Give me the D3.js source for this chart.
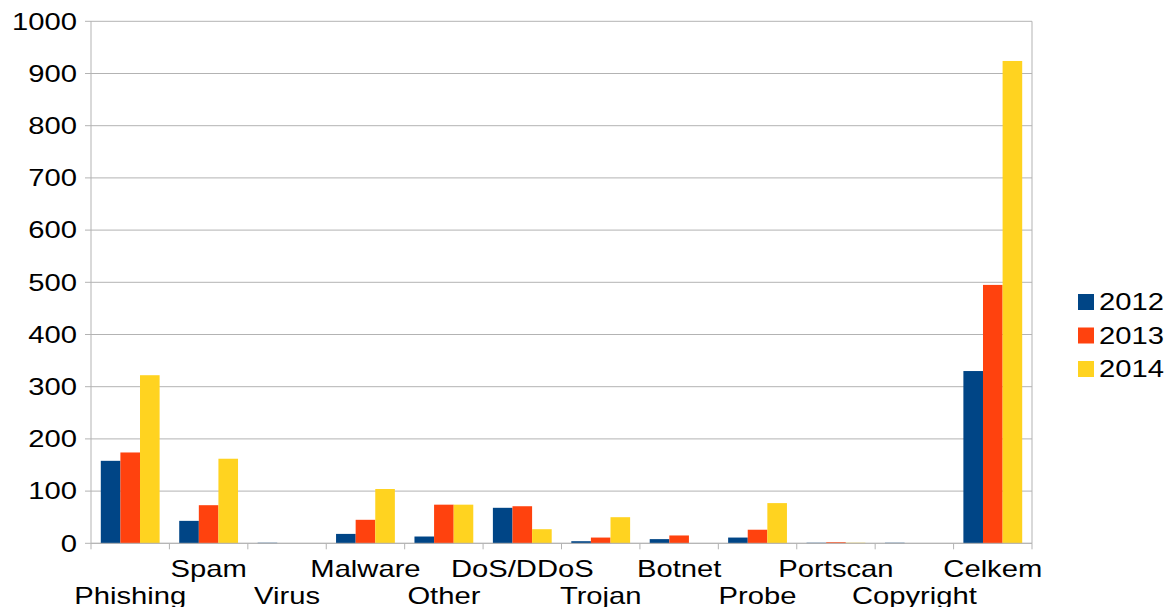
<!DOCTYPE html>
<html>
<head>
<meta charset="utf-8">
<script src="https://cdn.jsdelivr.net/npm/d3@7"></script>
<style>
    body { margin: 0; background: #fff; }
    text { font-family: "Liberation Sans", Arial, sans-serif; fill: #000; }
</style>
</head>
<body>
<div id="chart"></div>
<script>
// Chart data
const categories = ["Phishing", "Spam", "Virus", "Malware", "Other", "DoS/DDoS",
                    "Trojan", "Botnet", "Probe", "Portscan", "Copyright", "Celkem"]
const years = ["2012", "2013", "2014"]
const values2012 = [158, 43, 1, 18, 13, 68, 4, 8, 11, 1, 1, 330]
const values2013 = [174, 73, 0, 45, 74, 71, 11, 15, 26, 2, 0, 495]
const values2014 = [322, 162, 0, 104, 74, 27, 50, 0, 77, 1, 0, 924]
const yTicks = d3.range(0, 1001, 100)

const colours = ["#004586", "#ff420e", "#ffd320"]
const gridColour = "#b3b3b3"

// The source picture is stretched sideways, so text is too
const textStretch = 1.27
const fontSize = "23px"

function drawChart(container) {
    const width = 1175, height = 607
    const plot = {left: 91, right: 1032, top: 21.3, bottom: 543.3}

    // Build rows: one object per category with each year's value
    let data = categories.map((c, i) => ({
        category: c,
        values: [values2012[i], values2013[i], values2014[i]]
    }))

    let svg = d3.select(container).append("svg")
        .attr("width", width)
        .attr("height", height)

    // Scales
    let x = d3.scaleBand()
        .domain(categories)
        .range([plot.left, plot.right])
        .padding(0)
    let bw = x.bandwidth()
    let xInner = d3.scaleBand()
        .domain(years)
        .range([bw / 8, bw * 7 / 8])
        .padding(0)
    let y = d3.scaleLinear()
        .domain([0, 1000])
        .range([plot.bottom, plot.top])

    function place(tx, ty) {
        return "translate(" + tx + "," + ty + ") scale(" + textStretch + ",1)"
    }

    // Gridlines
    svg.append("g")
        .selectAll("line")
        .data(yTicks)
        .join("line")
            .attr("x1", plot.left - 6)
            .attr("x2", plot.right)
            .attr("y1", d => y(d))
            .attr("y2", d => y(d))
            .style("stroke", gridColour)
            .style("stroke-width", 1)

    // Plot border lines (left and right)
    svg.append("g")
        .selectAll("line")
        .data([plot.left, plot.right])
        .join("line")
            .attr("x1", d => d).attr("x2", d => d)
            .attr("y1", plot.top).attr("y2", plot.bottom)
            .style("stroke", gridColour)

    // Y labels
    svg.append("g")
        .selectAll("text")
        .data(yTicks)
        .join("text")
            .attr("transform", d => place(77, y(d)))
            .attr("dy", "0.36em")
            .attr("text-anchor", "end")
            .style("font-size", fontSize)
            .text(d => d)

    // Bars
    let groups = svg.append("g")
        .selectAll("g")
        .data(data)
        .join("g")
            .attr("transform", d => "translate(" + x(d.category) + ",0)")

    groups.selectAll("rect")
        .data(d => d.values.map((v, i) => ({year: years[i], value: v, i: i})))
        .join("rect")
            .attr("x", d => xInner(d.year))
            .attr("width", xInner.bandwidth())
            .attr("y", d => y(d.value))
            .attr("height", d => y(0) - y(d.value))
            .style("fill", d => colours[d.i])

    // X axis line and ticks at band edges
    svg.append("line")
        .attr("x1", plot.left).attr("x2", plot.right)
        .attr("y1", plot.bottom).attr("y2", plot.bottom)
        .style("stroke", gridColour)

    let edges = categories.map(c => x(c)).concat([plot.right])
    svg.append("g")
        .selectAll("line")
        .data(edges)
        .join("line")
            .attr("x1", d => d).attr("x2", d => d)
            .attr("y1", plot.bottom).attr("y2", plot.bottom + 6)
            .style("stroke", gridColour)

    // Category labels, staggered over two rows
    svg.append("g")
        .selectAll("text")
        .data(categories)
        .join("text")
            .attr("transform", (d, i) => place(x(d) + bw / 2, i % 2 == 0 ? 604 : 577))
            .attr("text-anchor", "middle")
            .style("font-size", fontSize)
            .text(d => d)

    // Legend
    let legend = svg.append("g")
        .selectAll("g")
        .data(years)
        .join("g")
            .attr("transform", (d, i) => "translate(1078," + (302 + i * 33.5) + ")")
    legend.append("rect")
        .attr("x", 0).attr("y", -8)
        .attr("width", 16).attr("height", 16)
        .style("fill", (d, i) => colours[i])
    legend.append("text")
        .attr("transform", place(21, 0))
        .attr("dy", "0.36em")
        .style("font-size", fontSize)
        .text(d => d)
}

drawChart("#chart")
</script>
</body>
</html>
